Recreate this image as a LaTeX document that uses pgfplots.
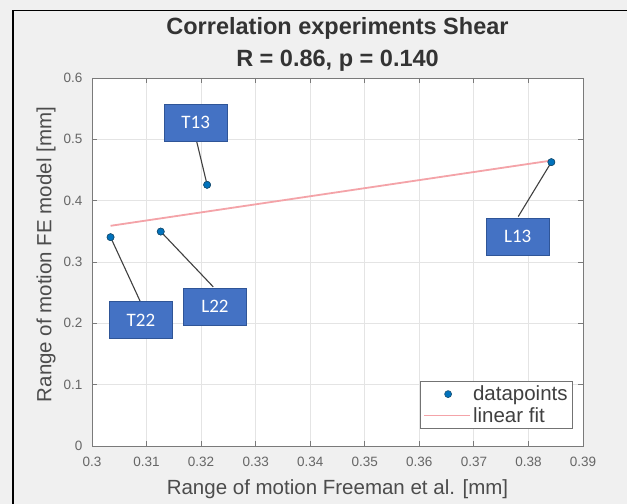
\documentclass[border=0pt]{standalone}
\usepackage{fontspec}
\setmainfont{Liberation Sans}
\newfontfamily\calibri{Carlito}
\usepackage{pgfplots}
\pgfplotsset{compat=1.18}
\definecolor{figbg}{HTML}{F0F0F0}
\definecolor{mblue}{HTML}{0072BD}
\definecolor{mdark}{HTML}{1A4F70}
\definecolor{fitpink}{HTML}{F4A3A8}
\definecolor{boxblue}{HTML}{4472C4}
\definecolor{boxedge}{HTML}{2F5597}
\definecolor{gridc}{HTML}{E4E4E4}
\definecolor{axc}{HTML}{7A7A7A}
\definecolor{leadc}{HTML}{404040}
\pgfplotsset{
  dotleg/.style={legend image code/.code={\draw[##1] plot coordinates {(24bp,0bp)};}},
  lineleg/.style={legend image code/.code={\draw[##1] (0bp,0bp) -- (46bp,0bp);}},
}
\tikzset{lbl/.style={fill=boxblue, draw=boxedge, line width=0.8bp, text=white,
  font=\calibri\fontsize{19bp}{21bp}\selectfont, minimum width=63bp, minimum height=37bp, inner sep=0pt}}

\begin{document}
\begin{tikzpicture}[x=1bp,y=1bp]
\fill[figbg] (0,0) rectangle (627,504);
\path[use as bounding box] (0,0) rectangle (627,504);
\draw[black, line width=1.6bp] (13,0) -- (13,493.5) -- (627,493.5);
\begin{axis}[
  at={(92bp,58bp)}, anchor=south west,
  scale only axis, width=491bp, height=368bp,
  xmin=0.3, xmax=0.39, ymin=0, ymax=0.6,
  xtick={0.3,0.31,0.32,0.33,0.34,0.35,0.36,0.37,0.38,0.39},
  xticklabels={0.3,0.31,0.32,0.33,0.34,0.35,0.36,0.37,0.38,0.39},
  ytick={0,0.1,0.2,0.3,0.4,0.5,0.6},
  yticklabels={0,0.1,0.2,0.3,0.4,0.5,0.6},
  axis background/.style={fill=white},
  axis line style={axc, line width=0.8bp},
  tick style={axc, line width=0.8bp},
  tick align=inside, major tick length=5bp,
  grid=major, major grid style={gridc, line width=0.8bp},
  /pgf/number format/assume math mode=true,
  tick label style={font=\fontsize{13.5bp}{15bp}\selectfont, text=black!60},
  xticklabel style={yshift=-8bp},
  yticklabel style={xshift=-6bp},
  xlabel={Range of motion Freeman et al. [mm]},
  ylabel={Range of motion FE model [mm]},
  label style={font=\fontsize{20.5bp}{23bp}\selectfont, text=black!70},
  xlabel style={at={(axis description cs:0.5,-0.117)}, anchor=center},
  ylabel style={at={(axis description cs:-0.0937,0.52)}, anchor=center},
  legend style={at={(1,0)}, anchor=south east, xshift=-10bp, yshift=17bp,
    font=\fontsize{20.5bp}{23bp}\selectfont, draw=black!55, line width=0.8bp,
    fill=white, inner xsep=3bp, inner ysep=3bp, row sep=1bp,
    text=black!75},
  legend cell align=left,
  clip=false,
]
\addplot[only marks, mark=*, mark size=3.5bp, mark options={fill=mblue, draw=mdark, line width=0.6bp}, dotleg]
  coordinates {(0.3034,0.3405) (0.3126,0.3496) (0.3211,0.4258) (0.3842,0.4628)};
\addlegendentry{datapoints}
\addplot[fitpink, line width=1.8bp, lineleg]
  coordinates {(0.3034,0.3590) (0.3842,0.4654)};
\addlegendentry{linear fit}
% leader lines
\addplot[forget plot, leadc, line width=1.1bp] coordinates {(0.31919,0.4964) (0.3211,0.4258)};
\addplot[forget plot, leadc, line width=1.1bp] coordinates {(0.30880,0.2365) (0.3034,0.3405)};
\addplot[forget plot, leadc, line width=1.1bp] coordinates {(0.32223,0.2594) (0.3126,0.3496)};
\addplot[forget plot, leadc, line width=1.1bp] coordinates {(0.37813,0.3741) (0.3842,0.4628)};
% redraw markers on top of lines
\addplot[forget plot, only marks, mark=*, mark size=3.5bp, mark options={fill=mblue, draw=mdark, line width=0.6bp}]
  coordinates {(0.3034,0.3405) (0.3126,0.3496) (0.3211,0.4258) (0.3842,0.4628)};
% label boxes
\node[lbl] at (axis cs:0.3190,0.527) {T13};
\node[lbl] at (axis cs:0.30898,0.2055) {T22};
\node[lbl] at (axis cs:0.32254,0.2272) {L22};
\node[lbl] at (axis cs:0.37802,0.3414) {L13};
% title
\node[anchor=base, font=\bfseries\fontsize{23.5bp}{26bp}\selectfont, text=black!80]
  at (axis description cs:0.5,1.117) {Correlation experiments Shear};
\node[anchor=base, font=\bfseries\fontsize{23.5bp}{26bp}\selectfont, text=black!80]
  at (axis description cs:0.5,1.030) {R = 0.86, p = 0.140};
\end{axis}
\end{tikzpicture}
\end{document}
